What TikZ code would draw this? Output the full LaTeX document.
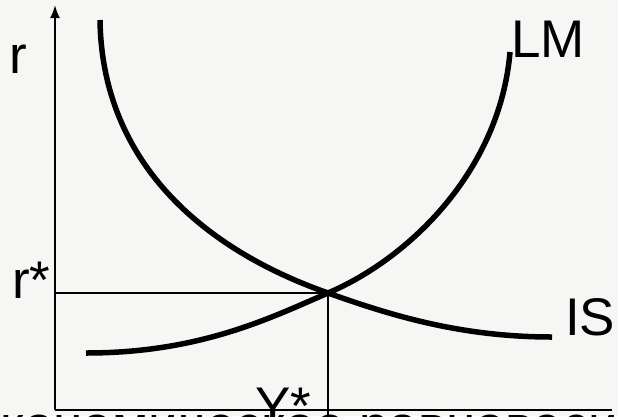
\documentclass[tikz,border=0pt]{standalone}
\usepackage{fontspec}
\setmainfont{Liberation Sans}
\usepackage{tikz}
\usetikzlibrary{arrows.meta}
\definecolor{bgcol}{RGB}{246,246,244}
\tikzset{curve/.style={line width=5.5pt},
  guide/.style={line width=1.6pt},
  lbl/.style={font=\fontsize{53}{60}\selectfont,inner sep=0pt,anchor=base west}}

\begin{document}
\begin{tikzpicture}[x=1pt,y=-1pt]
\clip(0,0) rectangle (618,416);
\fill[bgcol](0,0) rectangle (618,416);
\coordinate (O) at (55,410);
\coordinate (top) at (55,5);
\coordinate (xend) at (612,410);
\coordinate (E) at (328,293);
\coordinate (rs) at (55,293);
\coordinate (ys) at (328,416);
\coordinate (is0) at (100,20);
\coordinate (is1) at (552,337);
\coordinate (lm0) at (86,353);
\coordinate (lm1) at (510,52);
% axes
\draw[line width=2pt,-{Latex[length=13pt,width=10pt]}](O)--(top);
\draw[line width=2pt](O)--(xend);
% equilibrium
\draw[guide](rs)--(E)--(ys);
% IS and LM
\draw[curve](is0)..controls(102,160)and(200,248)..(E)
  ..controls(390,315)and(460,337)..(is1);
\draw[curve](lm0)..controls(200,353)and(270,318)..(E)
  ..controls(410,258)and(500,170)..(lm1);
\node[lbl] (r) at (9,73) {r};
\node[lbl] (rstar) at (12,298) {r*};
\node[lbl] (lm) at (511,57) {LM};
\node[lbl] (is) at (565,335) {IS};
\node[lbl] (ystar) at (255,424) {Y*};
\node[lbl] (title) at (-38,443) {Экономическое равновесие};
\end{tikzpicture}
\end{document}
